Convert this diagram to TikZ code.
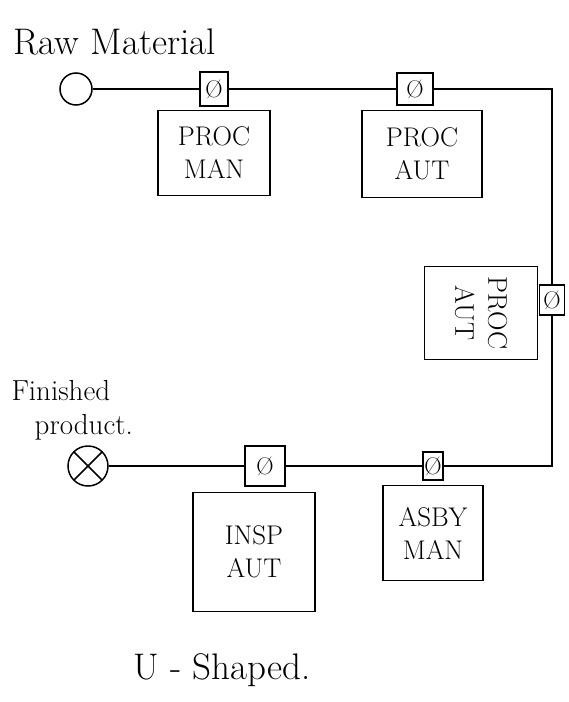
\documentclass[tikz,border=0pt]{standalone}
\usepackage{fontspec}
\usepackage{tikz}
\usetikzlibrary{positioning}
\tikzset{
  stationbox/.style={
    draw,
    line width=1.5pt,
    align=center,
    inner sep=2pt,
    font=\fontsize{27}{33}\selectfont
  },
  gaugetab/.style={
    draw,
    line width=1.5pt,
    inner sep=0pt,
    font=\fontsize{24}{24}\selectfont
  },
  flowline/.style={
    line width=1.5pt
  },
  handtext/.style={
    font=\fontsize{37}{40}\selectfont
  }
}

\begin{document}
\begin{tikzpicture}[x=1pt,y=-1pt]
    \useasboundingbox (0,0) rectangle (569,702);

    % labels
    \node[handtext, anchor=west] (rawlabel) at (10,42) {Raw Material};
    \node[handtext, anchor=west, align=left, font=\fontsize{29}{34}\selectfont] (finlabel) at (8,410)
        {Finished\\\hspace*{0.8em}product.};
    \node[handtext] (ushape) at (222,670) {U - Shaped.};

    % start and end
    \node[draw, circle, line width=1.5pt, minimum size=32pt, inner sep=0pt] (raw) at (76,89) {};
    \node[draw, circle, line width=1.5pt, minimum size=40pt, inner sep=0pt,
          path picture={\draw[line width=1.5pt]
            (path picture bounding box.north west) -- (path picture bounding box.south east)
            (path picture bounding box.north east) -- (path picture bounding box.south west);}]
          (fin) at (88,466) {};

    % stations
    \node[gaugetab, minimum width=28pt, minimum height=34pt] (t1) at (214,89) {\O};
    \node[stationbox, minimum width=112pt, minimum height=85pt, below=3pt of t1] (procman) {PROC\\MAN};

    \node[gaugetab, minimum width=36pt, minimum height=32pt] (t2) at (415,89) {\O};
    \node[stationbox, minimum width=120pt, minimum height=87pt, below=4pt of t2, xshift=7pt] (procaut) {PROC\\AUT};

    \node[gaugetab, minimum width=25pt, minimum height=30pt] (t3) at (552,300) {\O};
    \node[stationbox, minimum width=93pt, minimum height=113pt, rotate=-90] (procaut2) at (481,313) {PROC\\AUT};

    \node[gaugetab, minimum width=20pt, minimum height=28pt] (t4) at (433,466) {\O};
    \node[stationbox, minimum width=100pt, minimum height=95pt, below=4pt of t4] (asbyman) {ASBY\\MAN};

    \node[gaugetab, minimum width=40pt, minimum height=40pt] (t5) at (265,466) {\O};
    \node[stationbox, minimum width=122pt, minimum height=119pt, below=5pt of t5, xshift=-11pt] (inspaut) {INSP\\AUT};

    % flow
    \draw[flowline] (raw) -- (t1);
    \draw[flowline] (t1) -- (t2);
    \draw[flowline] (t2) -| (t3);
    \draw[flowline] (t3) |- (t4);
    \draw[flowline] (t4) -- (t5);
    \draw[flowline] (t5) -- (fin);
\end{tikzpicture}
\end{document}
